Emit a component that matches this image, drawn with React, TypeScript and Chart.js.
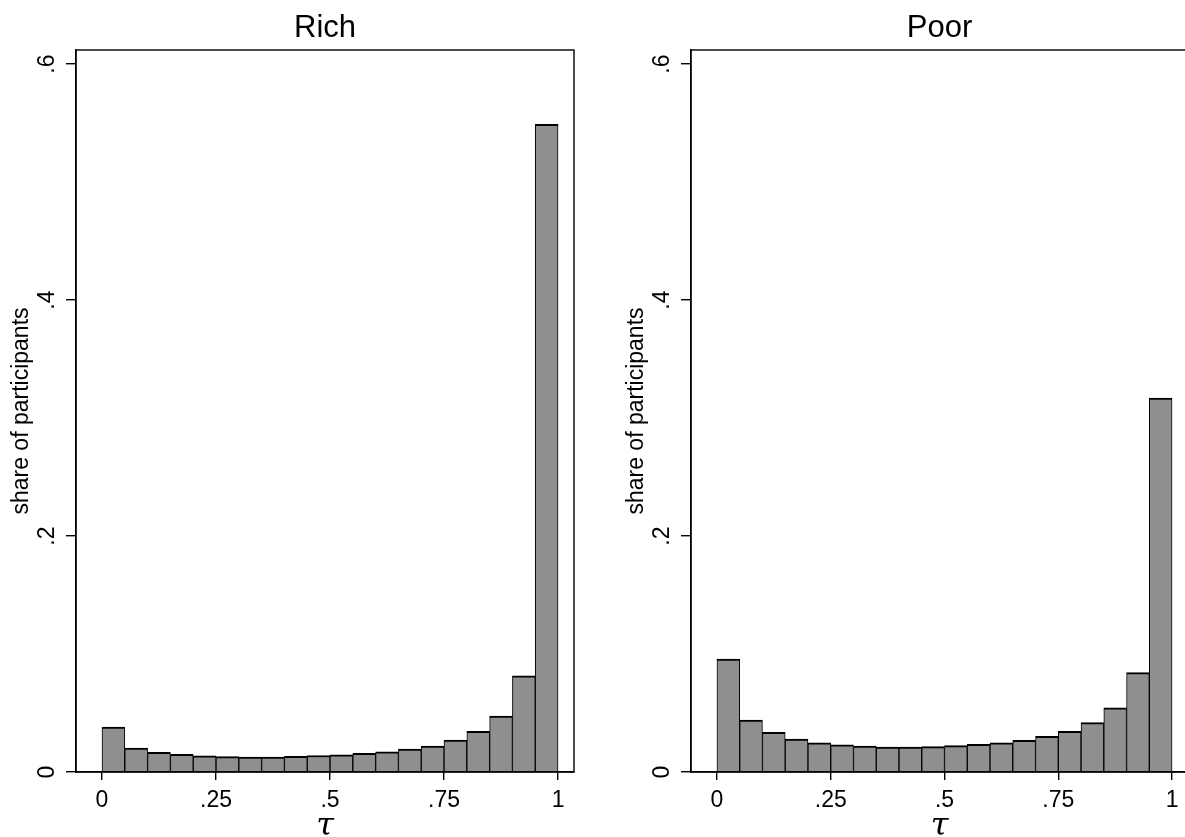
import React, { useEffect, useRef } from "react";
import { Chart, registerables } from "chart.js";

Chart.register(...registerables);

// ---- data ----
const binCenters = [
  0.025, 0.075, 0.125, 0.175, 0.225, 0.275, 0.325, 0.375, 0.425, 0.475,
  0.525, 0.575, 0.625, 0.675, 0.725, 0.775, 0.825, 0.875, 0.925, 0.975,
];
const richShares = [
  0.038, 0.0203, 0.0166, 0.0149, 0.0138, 0.013, 0.0127, 0.0127, 0.0132, 0.014,
  0.0145, 0.0158, 0.0172, 0.0195, 0.022, 0.0271, 0.0344, 0.0475, 0.0816, 0.549,
];
const poorShares = [
  0.0958, 0.0441, 0.0336, 0.028, 0.0248, 0.0231, 0.022, 0.0212, 0.0212, 0.0215,
  0.0223, 0.0234, 0.0248, 0.0268, 0.0302, 0.0344, 0.0418, 0.0543, 0.0842, 0.317,
];
const panelTitles = ["Rich", "Poor"];
const xTickValues = [0, 0.25, 0.5, 0.75, 1];
const xTickLabels = ["0", ".25", ".5", ".75", "1"];
const yTickValues = [0, 0.2, 0.4, 0.6];
const yTickLabels = ["0", ".2", ".4", ".6"];
const yAxisTitle = "share of participants";
const xAxisTitle = "\u03C4";

const SANS = "'Liberation Sans', Arial, Helvetica, sans-serif";
const SERIF = "'DejaVu Serif', 'Liberation Serif', serif";

const framePlugin = {
  id: "frame",
  afterDraw(chart: any) {
    const { ctx, chartArea: a } = chart;
    ctx.save();
    ctx.strokeStyle = "#000";
    ctx.lineWidth = 1.4;
    ctx.strokeRect(a.left, a.top, a.right - a.left, a.bottom - a.top);
    ctx.restore();
  },
};

function Panel({ title, values, left, rightPad }: { title: string; values: number[]; left: number; rightPad: number }) {
  const ref = useRef<HTMLCanvasElement | null>(null);
  useEffect(() => {
    if (!ref.current) return;
    const chart = new Chart(ref.current, {
      type: "bar",
      data: {
        datasets: [
          {
            data: binCenters.map((x, i) => ({ x, y: values[i] })),
            backgroundColor: "#8f8f8f",
            borderColor: "#000",
            borderWidth: { top: 2, left: 1, right: 1, bottom: 0 },
            borderSkipped: false,
            barPercentage: 1,
            categoryPercentage: 1,
          } as any,
        ],
      },
      options: {
        responsive: false,
        animation: false,
        devicePixelRatio: 1,
        layout: { padding: { left: 0, right: rightPad, top: 0, bottom: 0 } },
        plugins: {
          legend: { display: false },
          tooltip: { enabled: false },
          title: {
            display: true,
            text: title,
            fullSize: false,
            color: "#000",
            font: { family: SANS, size: 31, weight: "normal", lineHeight: 1.2 },
            padding: { top: 10, bottom: 2.8 },
          },
        },
        scales: {
          x: {
            type: "linear",
            min: -0.057,
            max: 1.035,
            offset: false,
            afterBuildTicks: (s: any) => {
              s.ticks = xTickValues.map((v) => ({ value: v }));
            },
            afterFit: (s: any) => {
              s.height = 65;
            },
            ticks: {
              autoSkip: false,
              maxRotation: 0,
              minRotation: 0,
              padding: 7,
              color: "#000",
              font: { family: SANS, size: 23 },
              callback: (_v: any, i: number) => xTickLabels[i],
            },
            grid: {
              drawOnChartArea: false,
              drawTicks: true,
              tickLength: 8,
              color: "#000",
              lineWidth: 1.4,
              offset: false,
            },
            border: { display: true, color: "#000", width: 1.4 },
            title: {
              display: true,
              text: xAxisTitle,
              color: "#000",
              font: { family: SERIF, size: 32, style: "italic", lineHeight: 0.5 },
              padding: { top: 0, bottom: 2 },
            },
          },
          y: {
            type: "linear",
            min: 0,
            max: 0.612,
            afterBuildTicks: (s: any) => {
              s.ticks = yTickValues.map((v) => ({ value: v }));
            },
            afterFit: (s: any) => {
              s.width = 76;
            },
            ticks: {
              autoSkip: false,
              minRotation: 90,
              maxRotation: 90,
              crossAlign: "center",
              padding: 9,
              color: "#000",
              font: { family: SANS, size: 23 },
              callback: (_v: any, i: number) => yTickLabels[i],
            },
            grid: {
              drawOnChartArea: false,
              drawTicks: true,
              tickLength: 10,
              color: "#000",
              lineWidth: 1.4,
            },
            border: { display: true, color: "#000", width: 1.4 },
            title: {
              display: true,
              text: yAxisTitle,
              color: "#000",
              font: { family: SANS, size: 23, lineHeight: 1.2 },
              padding: { top: 8, bottom: 0 },
            },
          },
        },
      } as any,
      plugins: [framePlugin],
    });
    return () => chart.destroy();
  }, [title, values, rightPad]);

  return (
    <canvas
      ref={ref}
      width={600}
      height={837}
      style={{ position: "absolute", left, top: 0, width: 600, height: 837 }}
    />
  );
}

export default function App() {
  return (
    <div
      style={{
        position: "fixed",
        left: 0,
        top: 0,
        width: 1185,
        height: 837,
        overflow: "hidden",
        background: "#fff",
      }}
    >
      <Panel title={panelTitles[0]} values={richShares} left={0} rightPad={26} />
      <Panel title={panelTitles[1]} values={poorShares} left={615} rightPad={27} />
    </div>
  );
}
